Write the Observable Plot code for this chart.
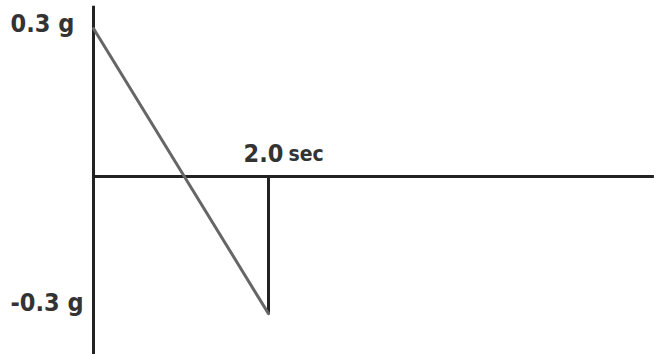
<!DOCTYPE html>
<html>
<head>
<meta charset="utf-8">
<script src="https://cdn.jsdelivr.net/npm/d3@7"></script>
<script src="https://cdn.jsdelivr.net/npm/@observablehq/plot@0.6"></script>
<style>
  html, body { margin: 0; padding: 0; background: #fff; }
</style>
</head>
<body>
<div id="chart"></div>
<script>
// Acceleration pulse (g) vs time (sec)
const pulseTime = [0, 2];
const pulseAccel = [0.3, -0.278];
const peakLabels = ["0.3 g", "-0.3 g"];
const peakValues = [0.3, -0.278];
const durationValue = 2.0;
const durationLabel = "2.0";
const durationUnit = "sec";
const timeEnd = 6.41;

const pxPerSec = 87.5;
const pxPerG = 493.3;
const W = 654, H = 354;
const x0 = 93, y0 = 176;

const pulse = pulseTime.map((t, i) => ({t, a: pulseAccel[i]}));

const font = {fontSize: 25, fontWeight: "bold", fill: "#333", textAnchor: "start"};

const chart = Plot.plot({
  width: W,
  height: H,
  margin: 0,
  x: {domain: [-x0 / pxPerSec, (W - x0) / pxPerSec], axis: null},
  y: {domain: [-(H - y0) / pxPerG, y0 / pxPerG], axis: null},
  style: {fontFamily: "DejaVu Sans Condensed, DejaVu Sans, sans-serif"},
  marks: [
    // vertical axis
    Plot.ruleX([0], {y1: -(H - y0) / pxPerG, y2: 0.345, stroke: "#222", strokeWidth: 3}),
    // horizontal axis
    Plot.ruleY([0], {x1: 0, x2: timeEnd, stroke: "#222", strokeWidth: 3}),
    // vertical drop at end of pulse
    Plot.ruleX([durationValue], {y1: peakValues[1], y2: 0, stroke: "#222", strokeWidth: 3}),
    // diagonal pulse line
    Plot.line(pulse, {x: "t", y: "a", stroke: "#666", strokeWidth: 3}),
    // peak labels
    Plot.text([peakLabels[0]], {x: () => 0, y: () => peakValues[0], text: d => d, dx: -83, dy: -5, ...font}),
    Plot.text([peakLabels[1]], {x: () => 0, y: () => peakValues[1], text: d => d, dx: -83, dy: -11, ...font}),
    // duration label
    Plot.text([durationLabel], {x: () => durationValue, y: () => 0, text: d => d, dx: -25, dy: -23, ...font}),
    Plot.text([durationUnit], {x: () => durationValue, y: () => 0, text: d => d, dx: 20, dy: -22, ...font, fontSize: 21})
  ]
});
document.getElementById("chart").appendChild(chart);
</script>
</body>
</html>
